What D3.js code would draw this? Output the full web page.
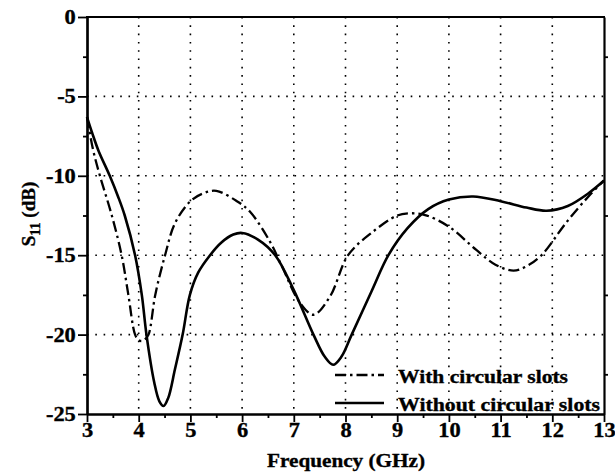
<!DOCTYPE html>
<html>
<head>
<meta charset="utf-8">
<script src="https://cdn.jsdelivr.net/npm/d3@7"></script>
<style>
  body { margin: 0; background: #fff; }
  text { font-family: "Liberation Serif", "Times New Roman", serif; font-weight: bold; fill: #000; stroke: #000; stroke-width: 0.35px; }
  .tick text { font-size: 20px; font-weight: bold; font-family: "Liberation Serif", serif; }
</style>
</head>
<body>
<div id="chart"></div>
<script>
// frequency ticks and dB ticks
var xTicks = [3, 4, 5, 6, 7, 8, 9, 10, 11, 12, 13];
var yTicks = [0, -5, -10, -15, -20, -25];

// [GHz, dB]
var withSlots = [
    [3.0, -6.3], [3.12, -8.4], [3.25, -10], [3.48, -12.5], [3.67, -15], [3.8, -17.5],
    [3.93, -20], [4.0, -20.35], [4.06, -20.4], [4.12, -20.3], [4.19, -20], [4.32, -17.5],
    [4.51, -15], [4.7, -13.0], [5.0, -11.6], [5.25, -11.1], [5.5, -10.95], [5.9, -11.6],
    [6.15, -12.25], [6.54, -14.15], [6.77, -15.7], [7.12, -18.0], [7.38, -18.75], [7.7, -17.6],
    [8.05, -15], [8.5, -13.6], [9.0, -12.5], [9.25, -12.36], [9.54, -12.47], [10.0, -13.2],
    [10.53, -14.67], [10.9, -15.6], [11.25, -15.97], [11.5, -15.7], [11.79, -15], [12.28, -12.9],
    [12.7, -11.3], [13.0, -10.3]
];
var withoutSlots = [
    [3.0, -6.3], [3.1, -7.3], [3.22, -8.4], [3.44, -10], [3.6, -11.3], [3.73, -12.5],
    [3.93, -15], [4.06, -17.5], [4.15, -20], [4.3, -23], [4.4, -24.2], [4.48, -24.5],
    [4.57, -24.0], [4.7, -22.2], [4.85, -20], [4.99, -17.5], [5.15, -16.1], [5.38, -15],
    [5.6, -14.2], [5.83, -13.7], [6.0, -13.6], [6.3, -14.0], [6.64, -15], [7.0, -17.2],
    [7.38, -20], [7.6, -21.4], [7.76, -21.9], [7.92, -21.4], [8.12, -20], [8.5, -17.3],
    [8.83, -15], [9.2, -13.3], [9.6, -12.1], [10.0, -11.5], [10.47, -11.3], [11.0, -11.6],
    [11.5, -12.0], [11.89, -12.2], [12.3, -11.9], [12.7, -11.1], [13.0, -10.3]
];
var seriesNames = ["With circular slots", "Without circular slots"];

var width = 615, height = 473;
var margin = { top: 17, right: 11, bottom: 59, left: 87 };
var w = width - margin.left - margin.right,
    h = height - margin.top - margin.bottom;

var svg = d3.select("#chart").append("svg")
    .attr("width", width)
    .attr("height", height);

var g = svg.append("g")
    .attr("transform", "translate(" + margin.left + "," + margin.top + ")");

var x = d3.scaleLinear().domain([3, 13]).range([0, w]);
var y = d3.scaleLinear().domain([-25, 0]).range([h, 0]);

// dotted grid
g.selectAll(".vgrid")
    .data(xTicks.slice(1, -1))
    .enter().append("line")
    .attr("x1", function(d) { return x(d); })
    .attr("x2", function(d) { return x(d); })
    .attr("y1", 0).attr("y2", h)
    .attr("stroke", "#000").attr("stroke-width", 1.6)
    .attr("stroke-dasharray", "1.6,6.7");

g.selectAll(".hgrid")
    .data(yTicks.slice(1, -1))
    .enter().append("line")
    .attr("y1", function(d) { return y(d); })
    .attr("y2", function(d) { return y(d); })
    .attr("x1", 0).attr("x2", w)
    .attr("stroke", "#000").attr("stroke-width", 1.6)
    .attr("stroke-dasharray", "1.6,6.7");

// axes
var xMinor = d3.range(3.5, 13, 1);
var yMinor = d3.range(-22.5, 0, 5);
var fmt = function(d) { return String(d); };

g.append("g")
    .attr("class", "xaxis")
    .attr("transform", "translate(0," + h + ")")
    .call(d3.axisBottom(x).tickValues(xTicks).tickSize(8).tickSizeOuter(0).tickPadding(1).tickFormat(fmt));
g.append("g")
    .attr("transform", "translate(0," + h + ")")
    .call(d3.axisBottom(x).tickValues(xMinor).tickSize(4).tickSizeOuter(0).tickFormat(""));

g.append("g")
    .attr("class", "yaxis")
    .call(d3.axisLeft(y).tickValues(yTicks).tickSize(9).tickSizeOuter(0).tickPadding(1).tickFormat(fmt));
g.append("g")
    .call(d3.axisLeft(y).tickValues(yMinor).tickSize(4).tickSizeOuter(0).tickFormat(""));

g.append("g")
    .attr("transform", "translate(" + w + ",0)")
    .call(d3.axisRight(y).tickValues(yMinor).tickSize(4).tickSizeOuter(0).tickFormat(""));

g.append("line")
    .attr("x1", -1).attr("x2", w + 1).attr("y1", 0).attr("y2", 0)
    .attr("stroke", "#000").attr("stroke-width", 2.2);

g.selectAll(".domain").attr("stroke-width", 2.2);
g.selectAll(".tick line").attr("stroke-width", 1.8);
g.selectAll(".xaxis, .yaxis")
    .attr("font-size", 20)
    .attr("font-family", "Liberation Serif")
    .attr("font-weight", "bold");
g.selectAll(".xaxis .tick text, .yaxis .tick text")
    .attr("transform", "scale(1.12,1)");

// curves
var line = d3.line()
    .x(function(d) { return x(d[0]); })
    .y(function(d) { return y(d[1]); })
    .curve(d3.curveCatmullRom.alpha(0.5));

g.append("path")
    .datum(withSlots)
    .attr("fill", "none")
    .attr("stroke", "#000")
    .attr("stroke-width", 2.3)
    .attr("stroke-dasharray", "11,4,2.5,4")
    .attr("d", line);

g.append("path")
    .datum(withoutSlots)
    .attr("fill", "none")
    .attr("stroke", "#000")
    .attr("stroke-width", 2.6)
    .attr("d", line);

// legend
var legend = svg.append("g");
var dashes = ["11,4,2.5,4", null];
var legendLen = [170, 202];
seriesNames.forEach(function(name, i) {
    var ly = 375 + i * 28;
    legend.append("line")
        .attr("x1", 335).attr("x2", 384)
        .attr("y1", ly).attr("y2", ly)
        .attr("stroke", "#000")
        .attr("stroke-width", i ? 2.6 : 2.3)
        .attr("stroke-dasharray", dashes[i]);
    legend.append("text")
        .attr("x", 398).attr("y", ly + 8)
        .attr("textLength", legendLen[i])
        .attr("lengthAdjust", "spacingAndGlyphs")
        .style("font-size", "19px")
        .text(name);
});

// axis titles
svg.append("text")
    .attr("x", 267)
    .attr("y", 467)
    .attr("textLength", 158)
    .attr("lengthAdjust", "spacingAndGlyphs")
    .style("font-size", "19px")
    .text("Frequency (GHz)");

var yl = svg.append("text")
    .attr("transform", "translate(35," + 214 + ") rotate(-90)")
    .attr("text-anchor", "middle")
    .style("font-size", "19px");
yl.append("tspan").text("S");
yl.append("tspan").attr("dy", 5).style("font-size", "14px").text("11");
yl.append("tspan").attr("dy", -5).text(" (dB)");
</script>
</body>
</html>
